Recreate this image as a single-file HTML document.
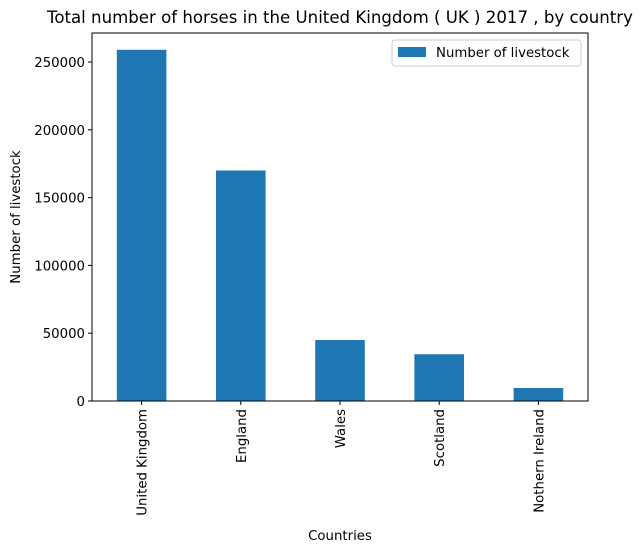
<!DOCTYPE html>
<html><head><meta charset="utf-8"><style>
body{margin:0;background:#fff;}
text{font-family:"DejaVu Sans","Liberation Sans",sans-serif;fill:#000;}
</style></head><body>
<svg id="chart" width="643" height="552" xmlns="http://www.w3.org/2000/svg">
<rect width="643" height="552" fill="#fff"/>
<text x="340" y="23" font-size="16.6" text-anchor="middle">Total number of horses in the United Kingdom ( UK ) 2017 , by country</text>
<g id="bars"></g>
<g id="yticks"></g>
<g id="xticks"></g>
<rect x="92" y="33" width="496" height="368" fill="none" stroke="#000" stroke-width="1"/>
<text x="340" y="540" font-size="13.3" text-anchor="middle">Countries</text>
<text transform="translate(20,217) rotate(-90)" font-size="13.3" text-anchor="middle">Number of livestock</text>
<g>
<rect x="392" y="40" width="189" height="26" fill="#fff" stroke="#ccc" rx="3"/>
<rect x="398" y="47" width="28" height="10" fill="#1f77b4"/>
<text x="436" y="57" font-size="13.3">Number of livestock</text>
</g>
</svg>
<script>
const categories=["United Kingdom","England","Wales","Scotland","Nothern Ireland"];
const values=[259000,170000,45000,34500,9600];
const yTicks=[0,50000,100000,150000,200000,250000];
const ns="http://www.w3.org/2000/svg";
const L=92,R=588,B=401;
function y(v){return B-v*339/250000;}
const band=(R-L)/categories.length;
function xc(i){return L+band*(i+0.5);}
const bars=document.getElementById('bars'),yt=document.getElementById('yticks'),xt=document.getElementById('xticks');
categories.forEach((c,i)=>{
 const r=document.createElementNS(ns,'rect');
 r.setAttribute('x',xc(i)-band/4);r.setAttribute('width',band/2);
 r.setAttribute('y',y(values[i]));r.setAttribute('height',B-y(values[i]));
 r.setAttribute('fill','#1f77b4');
 
 
 bars.appendChild(r);
 const l=document.createElementNS(ns,'line');
 l.setAttribute('x1',xc(i));l.setAttribute('x2',xc(i));l.setAttribute('y1',B);l.setAttribute('y2',B+4);l.setAttribute('stroke','#000');
 
 
 xt.appendChild(l);
 const t=document.createElementNS(ns,'text');
 t.setAttribute('transform','translate('+(xc(i)+5)+','+(B+8)+') rotate(-90)');
 t.setAttribute('text-anchor','end');t.setAttribute('font-size','13.3');
 t.textContent=c;
 
 
 xt.appendChild(t);
});
yTicks.forEach(v=>{
 const l=document.createElementNS(ns,'line');
 l.setAttribute('x1',L-4);l.setAttribute('x2',L);l.setAttribute('y1',y(v));l.setAttribute('y2',y(v));l.setAttribute('stroke','#000');
 
 
 yt.appendChild(l);
 const t=document.createElementNS(ns,'text');
 t.setAttribute('x',L-7);t.setAttribute('y',y(v)+5);t.setAttribute('text-anchor','end');t.setAttribute('font-size','13.3');
 t.textContent=v;
 
 
 yt.appendChild(t);
});
</script>
</body></html>
